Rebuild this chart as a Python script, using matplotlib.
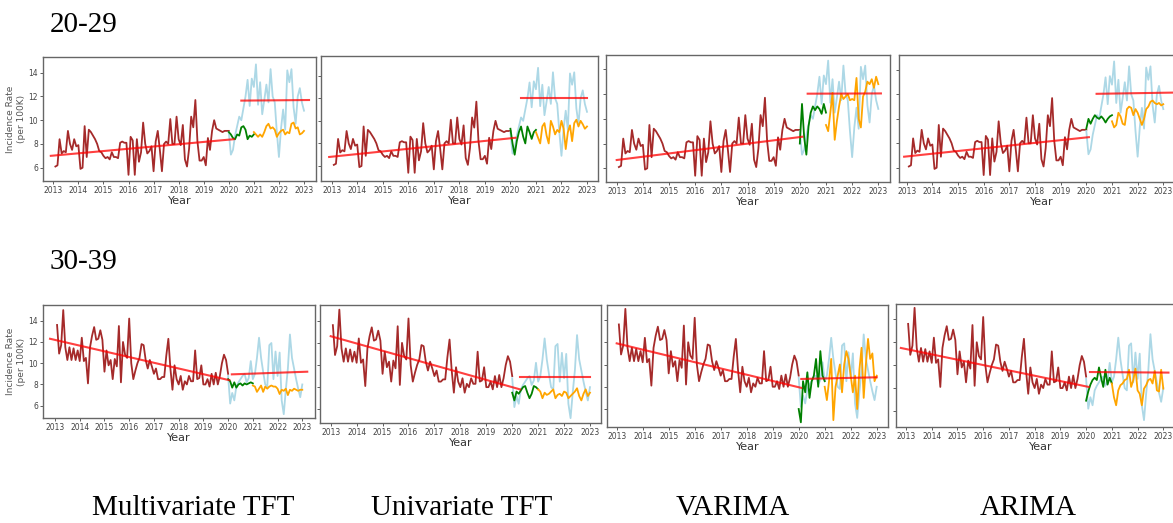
import numpy as np
import matplotlib
matplotlib.use("Agg")
import matplotlib.pyplot as plt

# ---- data (monthly incidence rates per 100K) ----
# age group 20-29
train_2029 = [6.1, 6.2, 8.4, 7.2, 7.4, 7.3, 9.1, 8.0, 7.5, 8.4, 7.8, 7.9,
              5.9, 6.0, 9.5, 6.9, 9.2, 9.0, 8.7, 8.4, 8.0, 7.4, 7.3, 7.0,
              6.8, 6.9, 6.7, 7.3, 6.9, 6.9, 6.8, 8.1, 8.2, 8.1, 8.1, 5.4,
              8.6, 8.3, 5.4, 8.4, 6.5, 7.3, 9.8, 8.0, 7.2, 7.4, 7.8, 5.7,
              8.2, 9.1, 7.5, 5.7, 8.0, 8.2, 8.0, 10.1, 8.0, 8.0, 10.3, 8.4,
              7.9, 9.6, 6.7, 6.1, 7.6, 10.3, 9.4, 11.7, 8.2, 6.6, 6.6, 6.9,
              6.2, 8.5, 7.5, 9.1, 10.0, 9.3, 9.2, 9.1, 9.0, 9.1, 9.1, 9.1]
actual_2029 = [9.0, 7.1, 7.5, 8.7, 9.5, 10.3, 10.0, 11.0, 12.0, 13.4, 11.2, 13.5,
               12.8, 14.7, 11.3, 13.2, 10.5, 11.7, 13.0, 11.5, 14.3, 12.0, 11.5, 9.0,
               6.9, 9.3, 10.9, 9.2, 14.2, 13.2, 14.3, 11.1, 9.7, 12.0, 12.7, 11.5, 10.8]

# age group 30-39
train_3039 = [13.6, 10.9, 11.7, 15.0, 11.5, 10.3, 11.5, 10.3, 11.4, 10.3, 11.2, 10.2,
              12.4, 10.2, 10.5, 8.1, 11.5, 12.6, 13.4, 12.2, 12.3, 13.1, 12.2, 9.2,
              11.2, 9.8, 10.3, 8.5, 10.4, 9.7, 13.5, 8.2, 12.0, 10.8, 10.5, 14.2,
              10.0, 8.5, 9.3, 10.0, 10.5, 11.8, 11.7, 10.3, 9.5, 10.3, 9.7, 9.0,
              9.5, 8.5, 8.5, 8.7, 8.7, 10.7, 12.3, 9.5, 7.5, 9.8, 8.5, 8.0,
              8.8, 7.5, 8.3, 8.0, 8.8, 8.3, 8.3, 11.2, 8.5, 8.6, 9.8, 8.0,
              8.0, 8.5, 7.8, 9.0, 8.0, 9.1, 8.0, 8.8, 10.0, 10.8, 10.3, 9.0]
actual_3039 = [8.8, 6.2, 7.2, 6.5, 7.8, 8.2, 8.5, 8.8, 9.0, 8.2, 8.6, 10.2, 8.5,
               9.0, 10.5, 12.4, 10.5, 9.2, 8.0, 7.8, 11.7, 11.9, 8.5, 11.1,
               8.8, 11.0, 6.5, 5.2, 7.5, 9.5, 12.7, 10.5, 9.5, 8.5, 7.6, 6.8, 8.0]

models = ["Multivariate TFT", "Univariate TFT", "VARIMA", "ARIMA"]

# test-period fit (2020) and forecast (2021-2022) per model
test_2029 = [
    [9.0, 8.8, 8.5, 8.4, 8.8, 8.7, 9.4, 9.5, 9.2, 8.4, 8.7, 8.6, 8.8],
    [9.3, 8.0, 7.0, 8.2, 9.0, 9.5, 8.6, 8.0, 9.5, 9.0, 8.4, 9.0, 9.2],
    [8.0, 11.2, 8.5, 7.1, 9.4, 10.5, 11.0, 10.7, 11.0, 10.8, 10.4, 11.2, 10.5],
    [9.2, 10.0, 9.6, 10.0, 10.3, 10.1, 10.0, 10.2, 10.0, 9.7, 10.0, 10.2, 10.3],
]
fcst_2029 = [
    [9.0, 8.8, 8.6, 8.8, 8.6, 9.0, 9.5, 9.7, 9.3, 9.4, 9.2, 8.6, 8.9,
     9.1, 9.2, 8.8, 9.0, 8.9, 9.7, 9.8, 9.3, 9.4, 8.8, 8.9, 9.1],
    [9.0, 8.5, 8.0, 9.5, 9.8, 8.7, 8.0, 10.0, 9.5, 8.8, 9.2, 9.0, 10.0,
     9.3, 7.5, 9.0, 9.6, 8.2, 9.8, 10.1, 9.5, 10.0, 9.7, 9.3, 9.5],
    [9.5, 9.0, 10.5, 12.1, 8.3, 9.8, 11.0, 12.0, 11.6, 11.8, 12.0, 11.5, 11.6,
     11.5, 13.3, 10.0, 9.3, 11.8, 12.2, 13.0, 12.8, 13.2, 12.5, 13.4, 12.8],
    [9.8, 9.3, 9.5, 10.5, 10.2, 9.6, 9.5, 10.8, 11.0, 10.9, 10.3, 10.8, 10.5,
     10.0, 9.5, 10.0, 10.8, 11.0, 11.4, 11.5, 11.3, 11.2, 11.3, 11.1, 11.2],
]
test_3039 = [
    [8.5, 8.3, 7.7, 8.2, 7.7, 8.0, 8.1, 7.9, 8.1, 8.0, 8.1, 8.2, 8.1],
    [7.5, 6.8, 7.6, 7.4, 7.7, 8.0, 8.1, 7.5, 7.0, 7.4, 8.1, 8.0, 7.8],
    [6.0, 4.8, 8.5, 7.5, 9.3, 7.0, 8.5, 9.0, 10.5, 8.0, 11.2, 9.0, 8.5],
    [6.9, 7.7, 8.3, 8.7, 8.9, 8.7, 9.8, 8.9, 8.1, 9.6, 8.3, 8.9, 8.4],
]
fcst_3039 = [
    [7.9, 7.8, 7.3, 7.6, 7.9, 7.3, 7.8, 7.6, 7.8, 7.9, 7.8, 7.8, 7.6,
     7.1, 7.5, 7.4, 7.6, 7.0, 7.5, 7.4, 7.6, 7.5, 7.4, 7.5, 7.5],
    [7.8, 7.6, 7.0, 7.5, 7.3, 7.4, 7.6, 7.8, 7.0, 7.3, 7.4, 7.2, 7.6,
     7.5, 7.0, 7.2, 7.4, 7.6, 7.9, 7.2, 6.8, 7.4, 7.8, 7.2, 7.5],
    [8.0, 6.8, 8.5, 10.5, 5.0, 8.0, 9.0, 10.0, 7.5, 10.0, 11.2, 10.5, 9.0,
     7.5, 9.0, 6.0, 9.5, 11.5, 7.0, 10.0, 12.3, 10.5, 11.0, 8.5, 9.0],
    [8.4, 7.2, 6.5, 7.8, 8.25, 8.4, 8.7, 8.8, 9.6, 8.1, 8.7, 9.7, 7.8,
     7.5, 6.5, 7.95, 8.25, 8.7, 8.8, 8.4, 9.5, 7.8, 7.7, 9.6, 7.95],
]

# trend lines: (x0, y0, x1, y1) for training trend and forecast mean
trend_2029 = [(2012.9, 7.0, 2020.2, 8.4), (2012.9, 6.8, 2020.2, 8.5),
              (2013.0, 6.67, 2020.1, 8.55), (2012.9, 6.9, 2020.1, 8.5)]
level_2029 = [(2020.5, 11.65, 2023.2, 11.7), (2020.4, 12.0, 2023.0, 12.0),
              (2020.3, 12.03, 2023.1, 12.05), (2020.4, 12.05, 2023.4, 12.15)]
trend_3039 = [(2012.8, 12.3, 2020.05, 8.4), (2013.0, 12.6, 2020.3, 7.8),
              (2013.0, 11.9, 2020.1, 7.9), (2012.8, 11.5, 2020.1, 8.1)]
level_3039 = [(2020.15, 8.95, 2023.2, 9.2), (2020.3, 8.9, 2023.0, 8.9),
              (2020.1, 8.7, 2023.0, 8.85), (2020.15, 9.4, 2023.2, 9.35)]

# ---- layout: screenshot-like panels, pixel boxes (l, t, r, b) ----
W, H = 1173, 523
boxes_2029 = [(43, 57, 316, 181), (321, 56, 598, 181), (606, 55, 890, 182), (899, 55, 1185, 182)]
boxes_3039 = [(43, 305, 315, 418), (320, 305, 601, 423), (607, 305, 888, 427), (896, 304, 1185, 427)]
xticks_2029 = [(53.3, 304), (331.7, 587), (616.7, 878.3), (906.7, 1163.3)]
xticks_3039 = [(55, 302.3), (330.7, 590), (616.7, 876.7), (906, 1163.3)]
yticks_2029 = [(72.7, 167.7), (75.7, 166), (69.3, 168.3), (70, 167.7)]
yticks_3039 = [(320.7, 405.7), (320.7, 409.3), (320, 409), (319.3, 411)]

fig = plt.figure(figsize=(W / 100, H / 100), dpi=100)


def panel(box, xt, yt, train, actual, test, fcst, trend, level, first):
    l, t, r, b = box
    ax = fig.add_axes([l / W, 1 - b / H, (r - l) / W, (b - t) / H])
    x_train = 2013 + (np.arange(len(train)) + 1) / 12
    x_act = 2020 + np.arange(len(actual)) / 12
    x_test = 2020 + np.arange(len(test)) / 12
    x_fc = 2021 + np.arange(len(fcst)) / 12
    ax.plot(x_train, train, color="#a52a2a", lw=1.3)
    ax.plot(x_act, actual, color="lightblue", lw=1.3)
    ax.plot(x_test, test, color="green", lw=1.3)
    ax.plot(x_fc, fcst, color="orange", lw=1.3)
    ax.plot([trend[0], trend[2]], [trend[1], trend[3]], color="red", lw=1.5, alpha=0.75)
    ax.plot([level[0], level[2]], [level[1], level[3]], color="red", lw=1.5, alpha=0.75)
    # limits so the ticks land where they are in the picture
    ppy = (xt[1] - xt[0]) / 10
    ax.set_xlim(2013 - (xt[0] - l) / ppy, 2023 + (r - xt[1]) / ppy)
    ppu = (yt[1] - yt[0]) / 8
    ax.set_ylim(6 - (b - yt[1]) / ppu, 14 + (yt[0] - t) / ppu)
    ax.set_xticks(range(2013, 2024))
    ax.set_yticks([6, 8, 10, 12, 14])
    ax.tick_params(labelsize=5.5, colors="#444", length=2, width=0.6, pad=1.5)
    if not first:
        ax.tick_params(labelleft=False)
    else:
        ax.set_ylabel("Incidence Rate\n(per 100K)", fontsize=6.5, color="#555", labelpad=2)
    ax.set_xlabel("Year", fontsize=8, color="#333", labelpad=1)
    for s in ax.spines.values():
        s.set_color("#666")
        s.set_linewidth(1.0)
    return ax


for i in range(4):
    panel(boxes_2029[i], xticks_2029[i], yticks_2029[i], train_2029, actual_2029,
          test_2029[i], fcst_2029[i], trend_2029[i], level_2029[i], i == 0)
    panel(boxes_3039[i], xticks_3039[i], yticks_3039[i], train_3039, actual_3039,
          test_3039[i], fcst_3039[i], trend_3039[i], level_3039[i], i == 0)

serif = dict(family="Liberation Serif", fontsize=21, color="black")
fig.text(50 / W, 1 - 25 / H, "20-29", va="center", ha="left", **serif)
fig.text(50 / W, 1 - 262 / H, "30-39", va="center", ha="left", **serif)
for name, cx in zip(models, [193, 462, 733, 1028]):
    fig.text(cx / W, 1 - 508 / H, name, va="center", ha="center", **serif)

fig.savefig("out.png", dpi=100)
